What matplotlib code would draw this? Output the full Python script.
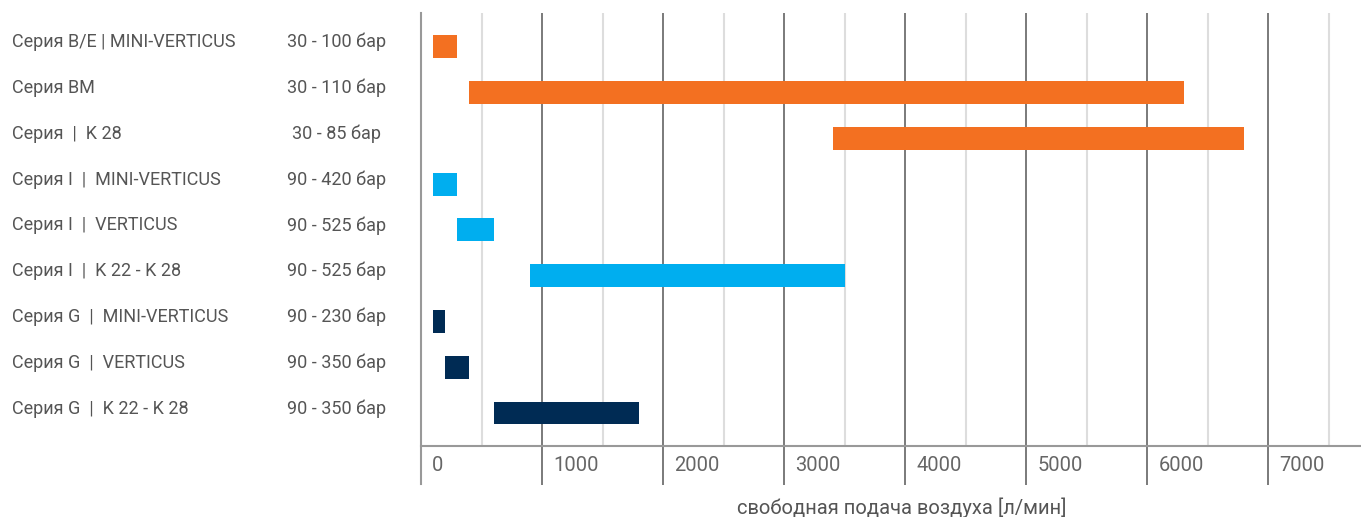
import matplotlib
matplotlib.use("Agg")
import matplotlib.pyplot as plt
import matplotlib.transforms as mtransforms
from matplotlib.ticker import MultipleLocator
import numpy as np

plt.rcParams['font.family'] = ['Roboto', 'DejaVu Sans']

# rows, top to bottom
names = ["Серия B/E | MINI-VERTICUS", "Серия BM", "Серия  |  K 28",
         "Серия I  |  MINI-VERTICUS", "Серия I  |  VERTICUS", "Серия I  |  K 22 - K 28",
         "Серия G  |  MINI-VERTICUS", "Серия G  |  VERTICUS", "Серия G  |  K 22 - K 28"]
pressure = ["30 - 100 бар", "30 - 110 бар", "30 - 85 бар",
            "90 - 420 бар", "90 - 525 бар", "90 - 525 бар",
            "90 - 230 бар", "90 - 350 бар", "90 - 350 бар"]
flow_min = [100, 400, 3400, 100, 300, 900, 100, 200, 600]
flow_max = [300, 6300, 6800, 300, 600, 3500, 200, 400, 1800]
group = ["B", "B", "B", "I", "I", "I", "G", "G", "G"]
group_colors = {"B": "#F37021", "I": "#00AEEF", "G": "#002B54"}
xticks = [0, 1000, 2000, 3000, 4000, 5000, 6000, 7000]
xlabel = "свободная подача воздуха [л/мин]"

W, H = 1361, 517
fig = plt.figure(figsize=(W / 100, H / 100), dpi=100)
ax = fig.add_axes([421 / W, 1 - 446 / H, 1 - 421 / W, (446 - 13) / H])

y = np.arange(len(names))
widths = np.array(flow_max) - np.array(flow_min)
ax.barh(y, widths, left=flow_min, height=0.5,
        color=[group_colors[g] for g in group], zorder=3)

ax.set_xlim(0, 7765)
ax.set_ylim(8.72, -0.736)

# grid: dark at 1000, light at 500
ax.xaxis.set_minor_locator(MultipleLocator(500))
ax.set_xticks(xticks)
ax.set_xticklabels([str(v) for v in xticks], fontsize=14.5, color="#666666", ha="left")
ax.grid(axis="x", which="major", color="#707070", lw=1.3, zorder=1)
ax.grid(axis="x", which="minor", color="#dddddd", lw=1.5, zorder=0)
ax.tick_params(axis="x", which="major", length=28, width=1.3, color="#707070", pad=-21)
ax.tick_params(axis="x", which="minor", length=0)
offset = mtransforms.ScaledTranslation(11 / 100, 0, fig.dpi_scale_trans)
for lab in ax.get_xticklabels():
    lab.set_transform(lab.get_transform() + offset)

ax.set_yticks([])
for s in ["top", "right"]:
    ax.spines[s].set_visible(False)
ax.spines["left"].set_color("#999999")
ax.spines["left"].set_linewidth(1.5)
ax.spines["left"].set_bounds(-0.736, 9.55)
ax.spines["bottom"].set_color("#999999")
ax.spines["bottom"].set_linewidth(1.5)

# row labels
txt_off = mtransforms.ScaledTranslation(0, 4.5 / 100, fig.dpi_scale_trans)
name_tr = mtransforms.blended_transform_factory(fig.transFigure, ax.transData) + txt_off
for yi, n, p in zip(y, names, pressure):
    ax.text(12 / W, yi, n, transform=name_tr, ha="left", va="center",
            fontsize=13, color="#555555", clip_on=False)
    ax.text(336.5 / W, yi, p, transform=name_tr, ha="center", va="center",
            fontsize=13, color="#555555", clip_on=False)

fig.text(902 / W, 1 - 508 / H, xlabel, ha="center", va="center",
         fontsize=14.5, color="#555555")

fig.savefig("out.png", dpi=100)
